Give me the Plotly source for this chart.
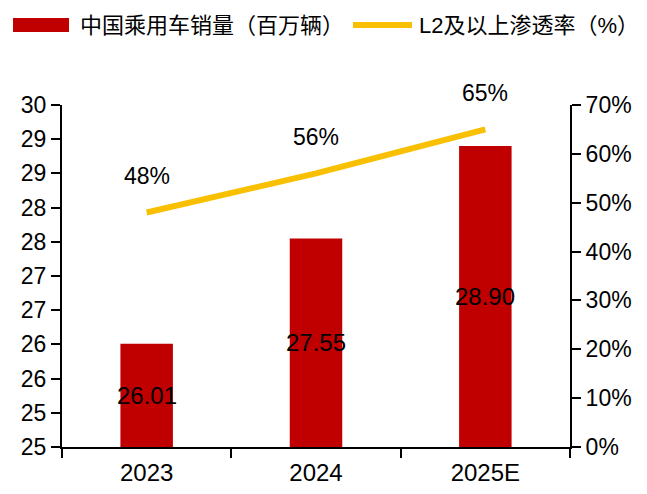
import plotly.graph_objects as go

categories = ["2023", "2024", "2025E"]
sales = [26.01, 27.55, 28.90]
sales_text = ["26.01", "27.55", "28.90"]
penetration = [48, 56, 65]
pen_text = ["48%", "56%", "65%"]
y_tickvals = [24.5, 25, 25.5, 26, 26.5, 27, 27.5, 28, 28.5, 29, 29.5]
y_ticktext = ["25", "25", "26", "26", "27", "27", "28", "28", "29", "29", "30"]
y2_tickvals = [0, 10, 20, 30, 40, 50, 60, 70]
y2_ticktext = ["0%", "10%", "20%", "30%", "40%", "50%", "60%", "70%"]
legend_names = ["中国乘用车销量（百万辆）", "L2及以上渗透率（%）"]

RED = "#C00000"
YEL = "#F8C000"
NUM_FONT = "Liberation Sans, Arial, sans-serif"
CJK_FONT = "Liberation Sans, Noto Sans CJK SC, sans-serif"

W, H = 647, 494
L, R, T, B = 62, 77, 105, 47
PW, PH = W - L - R, H - T - B
Y_RANGE = [24.5, 29.5]


def px(x):
    return (x - L) / PW


def py(y):
    return (H - B - y) / PH


fig = go.Figure()
fig.add_trace(go.Bar(
    x=categories, y=sales, name=legend_names[0],
    marker=dict(color=RED, line=dict(width=0)),
    width=0.31,
    showlegend=False,
))
fig.add_trace(go.Scatter(
    x=categories, y=penetration, name=legend_names[1], yaxis="y2",
    mode="lines", line=dict(color=YEL, width=6),
    showlegend=False,
))

annotations = []
# bar value labels, centred on the visible part of each bar
for i, (v, t) in enumerate(zip(sales, sales_text)):
    annotations.append(dict(x=i, y=(Y_RANGE[0] + v) / 2, xref="x", yref="y",
                            text=t, showarrow=False,
                            font=dict(family=NUM_FONT, size=24, color="black")))
# line value labels
for i, (v, t) in enumerate(zip(penetration, pen_text)):
    annotations.append(dict(x=i, y=v, xref="x", yref="y2", text=t,
                            showarrow=False, yshift=36,
                            font=dict(family=NUM_FONT, size=23, color="black")))

# manual legend
shapes = [
    dict(type="rect", xref="paper", yref="paper",
         x0=px(13), x1=px(69), y0=py(32), y1=py(18),
         fillcolor=RED, line=dict(width=0)),
    dict(type="line", xref="paper", yref="paper",
         x0=px(353), x1=px(412), y0=py(25), y1=py(25),
         line=dict(color=YEL, width=6)),
]
annotations.append(dict(xref="paper", yref="paper", x=px(78), y=py(25),
                        xanchor="left", yanchor="middle", text=legend_names[0],
                        showarrow=False,
                        font=dict(family=CJK_FONT, size=22, color="black")))
annotations.append(dict(xref="paper", yref="paper", x=px(417), y=py(25),
                        xanchor="left", yanchor="middle", text=legend_names[1],
                        showarrow=False,
                        font=dict(family=CJK_FONT, size=22, color="black")))

fig.update_layout(
    width=W, height=H,
    margin=dict(l=L, r=R, t=T, b=B, pad=0, autoexpand=False),
    paper_bgcolor="white", plot_bgcolor="white",
    showlegend=False,
    annotations=annotations,
    shapes=shapes,
    xaxis=dict(
        type="category", range=[-0.5, 2.5], automargin=False,
        showline=True, linecolor="black", linewidth=2,
        ticks="outside", tickson="boundaries", ticklen=9, tickwidth=2, tickcolor="black",
        ticklabelstandoff=3,
        tickfont=dict(family=NUM_FONT, size=24, color="black"),
        showgrid=False, zeroline=False,
    ),
    yaxis=dict(
        range=Y_RANGE, tickvals=y_tickvals, ticktext=y_ticktext, automargin=False,
        showline=True, linecolor="black", linewidth=2,
        ticks="outside", ticklen=9, tickwidth=2, tickcolor="black",
        tickfont=dict(family=NUM_FONT, size=23, color="black"),
        showgrid=False, zeroline=False,
    ),
    yaxis2=dict(
        overlaying="y", side="right", automargin=False,
        range=[0, 70], tickvals=y2_tickvals, ticktext=y2_ticktext,
        showline=True, linecolor="black", linewidth=2,
        ticks="outside", ticklen=9, tickwidth=2, tickcolor="black",
        tickfont=dict(family=NUM_FONT, size=23, color="black"),
        showgrid=False, zeroline=False,
    ),
)

fig.write_html("out.html")
